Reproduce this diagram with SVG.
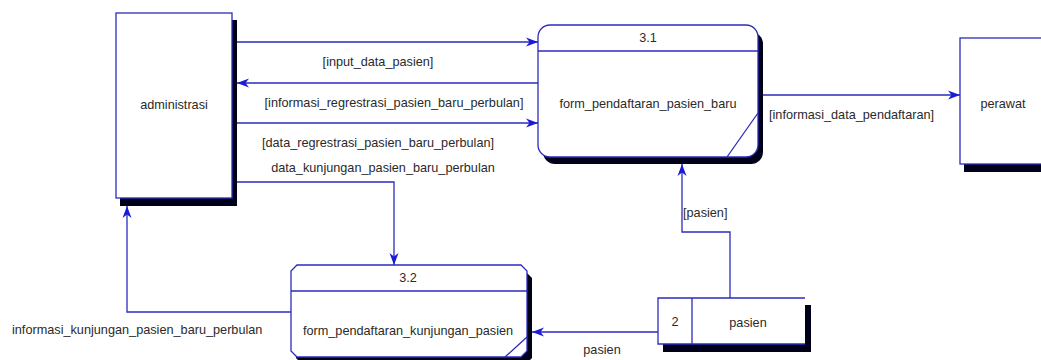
<svg xmlns="http://www.w3.org/2000/svg" width="1041" height="360" viewBox="0 0 1041 360">
<style>
.ln{fill:none;stroke:#2b2bbd;stroke-width:1.3}
.node{fill:#fff;stroke:#2b2bbd;stroke-width:1.3}
.sh{fill:#00001a}
.t{font-family:"Liberation Sans",Arial,sans-serif;font-size:12.7px;fill:#2a2a2a}
.c{text-anchor:middle}
</style>
<defs>
<marker id="arr" markerUnits="userSpaceOnUse" markerWidth="14" markerHeight="10" viewBox="0 -5 13 10" refX="12" refY="0" orient="auto">
<path d="M12,0 L0,-4.5 L3.5,0 L0,4.5 Z" fill="#1a1ad8"/>
</marker>
</defs>
<rect width="1041" height="360" fill="#fff"/>
<g id="connectors">
<path class="ln" d="M237,42 H538" marker-end="url(#arr)"/>
<path class="ln" d="M538,83 H237" marker-end="url(#arr)"/>
<path class="ln" d="M237,123 H538" marker-end="url(#arr)"/>
<path class="ln" d="M237,182 H394 V265" marker-end="url(#arr)"/>
<path class="ln" d="M291,312 H127 V206" marker-end="url(#arr)"/>
<path class="ln" d="M763,95 H960" marker-end="url(#arr)"/>
<path class="ln" d="M730,298 V232 H682 V164" marker-end="url(#arr)"/>
<path class="ln" d="M658,332 H532" marker-end="url(#arr)"/>
<text class="t c" x="378" y="66">[input_data_pasien]</text>
<text class="t c" x="394" y="107">[informasi_regrestrasi_pasien_baru_perbulan]</text>
<text class="t c" x="378" y="147">[data_regrestrasi_pasien_baru_perbulan]</text>
<text class="t c" x="383" y="172">data_kunjungan_pasien_baru_perbulan</text>
<text class="t" x="12" y="334">informasi_kunjungan_pasien_baru_perbulan</text>
<text class="t" x="769" y="119">[informasi_data_pendaftaran]</text>
<text class="t" x="683" y="217">[pasien]</text>
<text class="t c" x="602" y="354">pasien</text>
</g>
<g id="administrasi">
<rect class="sh" x="120" y="20" width="117" height="186"/>
<rect class="node" x="116" y="13" width="116" height="185"/>
<text class="t c" x="174" y="109">administrasi</text>
</g>
<g id="perawat">
<rect class="sh" x="964" y="45" width="90" height="127"/>
<rect class="node" x="960" y="38" width="90" height="126"/>
<text class="t c" x="1003" y="108">perawat</text>
</g>
<g id="p31">
<rect class="sh" x="543" y="32" width="220" height="132" rx="12"/>
<rect class="node" x="538" y="25" width="220" height="132" rx="12"/>
<path class="ln" d="M538,51 H758 M758,113 L727,157"/>
<text class="t c" x="648" y="42">3.1</text>
<text class="t c" x="648" y="108">form_pendaftaran_pasien_baru</text>
</g>
<g id="p32">
<path class="sh" d="M302,272 H526 L532,278 V358 L526,364 H302 L296,358 V278 Z"/>
<path class="node" d="M297,265 H521 L527,271 V351 L521,357 H297 L291,351 V271 Z"/>
<path class="ln" d="M291,291 H527 M527,337 L505,357"/>
<text class="t c" x="408" y="282">3.2</text>
<text class="t c" x="408" y="335">form_pendaftaran_kunjungan_pasien</text>
</g>
<g id="store2">
<rect class="sh" x="663" y="305" width="148" height="47"/>
<rect x="658" y="298" width="147" height="46" fill="#fff"/>
<path class="ln" d="M805,298 H658 V344 H805 M692,298 V344"/>
<text class="t c" x="675" y="326">2</text>
<text class="t c" x="748" y="327">pasien</text>
</g>
</svg>
